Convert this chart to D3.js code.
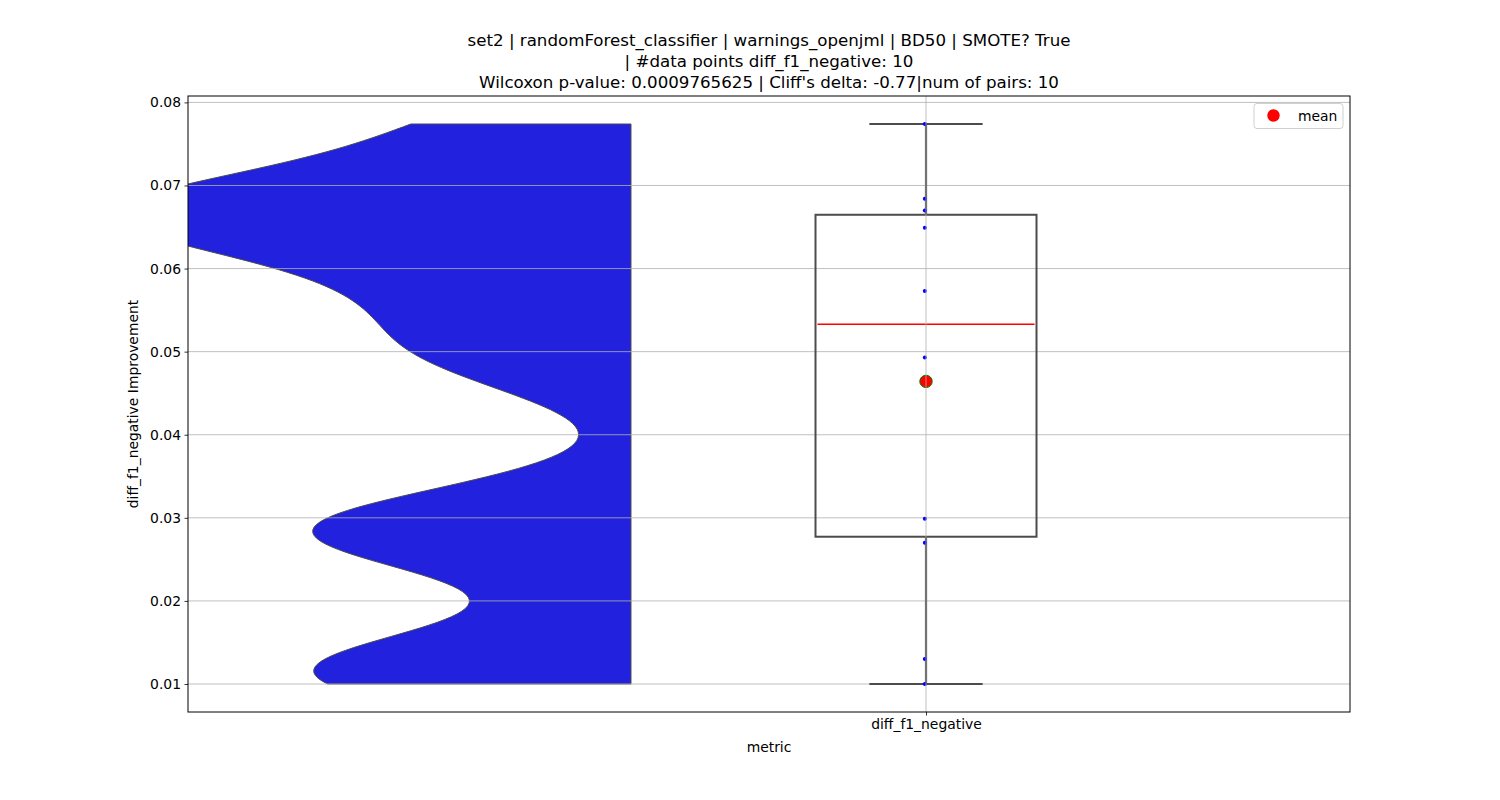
<!DOCTYPE html>
<html>
<head>
<meta charset="utf-8">
<script src="https://cdn.jsdelivr.net/npm/d3@7"></script>
<style>
  body { margin: 0; background: #fff; }
  text { font-family: "DejaVu Sans", sans-serif; }
</style>
</head>
<body>
<svg id="chart" width="1500" height="800"></svg>
<script>
// ---- data ----
const categories = ["diff_f1_negative"];
const values = [0.0774, 0.0684, 0.0670, 0.0649, 0.0573, 0.0493, 0.0299, 0.0270, 0.0130, 0.0100];
const yTicks = [0.01, 0.02, 0.03, 0.04, 0.05, 0.06, 0.07, 0.08];
const titleLines = [
  "set2 | randomForest_classifier | warnings_openjml | BD50 | SMOTE? True",
  "| #data points diff_f1_negative: 10",
  "Wilcoxon p-value: 0.0009765625 | Cliff's delta: -0.77|num of pairs: 10"
];
const xLabel = "metric";
const yLabel = "diff_f1_negative Improvement";
const legendLabel = "mean";

// ---- layout ----
const L = 188, R = 1350, T = 96, B = 712;
const svg = d3.select("#chart");

const y = d3.scaleLinear().domain([0.00663, 0.08077]).range([B, T]);
const x = d3.scaleLinear().domain([-2.6715, 1.5348]).range([L, R]);
const catPos = 0;

// statistics
const sorted = values.slice().sort(d3.ascending);
const q1 = d3.quantile(sorted, 0.25), q3 = d3.quantile(sorted, 0.75);
const med = d3.median(sorted), mean = d3.mean(sorted);
const lo = d3.min(sorted), hi = d3.max(sorted);

// clip
svg.append("defs").append("clipPath").attr("id", "clip")
  .append("rect").attr("x", L).attr("y", T).attr("width", R - L).attr("height", B - T);

// ---- half violin (gaussian KDE, cut at data range) ----
const bw = 0.0049;
const kde = v => d3.sum(values, d => Math.exp(-0.5 * ((v - d) / bw) ** 2));
const grid = d3.range(0, 201).map(i => lo + (hi - lo) * i / 200);
const dens = grid.map(v => [v, kde(v)]);
const dmax = d3.max(dens, d => d[1]);
const violinRight = -1.068, violinWidth = 1.875;
const violinPts = dens.map(d => [x(violinRight - violinWidth * d[1] / dmax), y(d[0])]);
violinPts.push([x(violinRight), y(hi)]);
violinPts.push([x(violinRight), y(lo)]);
svg.append("g").attr("clip-path", "url(#clip)")
  .append("path")
  .attr("d", d3.line()(violinPts) + "Z")
  .attr("fill", "#2121de")
  .attr("stroke", "#4a4a4a")
  .attr("stroke-width", 1);

// ---- grid ----
const gridG = svg.append("g");
gridG.selectAll("line.h").data(yTicks).join("line")
  .attr("x1", L).attr("x2", R)
  .attr("y1", d => y(d)).attr("y2", d => y(d))
  .attr("stroke", "#b0b0b0").attr("stroke-width", 0.8);

// ---- box plot ----
const boxG = svg.append("g");
const boxHalf = 0.4, capHalf = 0.205;
const stroke = "#4c4c4c";
boxG.append("line").attr("x1", x(catPos)).attr("x2", x(catPos))
  .attr("y1", y(q3)).attr("y2", y(hi)).attr("stroke", stroke).attr("stroke-width", 2.2);
boxG.append("line").attr("x1", x(catPos)).attr("x2", x(catPos))
  .attr("y1", y(q1)).attr("y2", y(lo)).attr("stroke", stroke).attr("stroke-width", 2.2);
[hi, lo].forEach(v => boxG.append("line")
  .attr("x1", x(catPos - capHalf)).attr("x2", x(catPos + capHalf))
  .attr("y1", y(v)).attr("y2", y(v)).attr("stroke", stroke).attr("stroke-width", 2));
boxG.append("rect")
  .attr("x", x(catPos - boxHalf)).attr("width", x(catPos + boxHalf) - x(catPos - boxHalf))
  .attr("y", y(q3)).attr("height", y(q1) - y(q3))
  .attr("fill", "none").attr("stroke", stroke).attr("stroke-width", 2);
boxG.append("line")
  .attr("x1", x(catPos - boxHalf) + 2).attr("x2", x(catPos + boxHalf) - 2)
  .attr("y1", y(med)).attr("y2", y(med)).attr("stroke", "red").attr("stroke-width", 1.6);

// data points
svg.append("g").selectAll("circle").data(values).join("circle")
  .attr("cx", x(catPos) - 1.2).attr("cy", d => y(d)).attr("r", 2)
  .attr("fill", "blue");

// mean marker
svg.append("circle").attr("cx", x(catPos)).attr("cy", y(mean)).attr("r", 6.2)
  .attr("fill", "red").attr("stroke", "green").attr("stroke-width", 1);

// vertical grid line (drawn above box, as in reference)
svg.append("line")
  .attr("x1", x(catPos)).attr("x2", x(catPos)).attr("y1", T).attr("y2", B)
  .attr("stroke", "#b0b0b0").attr("stroke-width", 0.8);

// ---- axes ----
svg.append("rect").attr("x", L).attr("y", T).attr("width", R - L).attr("height", B - T)
  .attr("fill", "none").attr("stroke", "black").attr("stroke-width", 1);

const yAxis = svg.append("g").attr("transform", `translate(${L},0)`)
  .call(d3.axisLeft(y).tickValues(yTicks).tickFormat(d3.format(".2f")).tickSize(3.5).tickPadding(3.5));
yAxis.select(".domain").remove();
yAxis.selectAll("text").attr("font-size", 13.9).attr("fill", "black").attr("font-family", "DejaVu Sans");
yAxis.selectAll("line").attr("stroke", "black").attr("stroke-width", 0.8);

const xBand = d3.scalePoint().domain(categories).range([x(catPos), x(catPos)]);
const xAxis = svg.append("g").attr("transform", `translate(0,${B})`)
  .call(d3.axisBottom(xBand).tickSize(3.5).tickPadding(3.5));
xAxis.select(".domain").remove();
xAxis.selectAll("text").attr("font-size", 13.9).attr("fill", "black").attr("font-family", "DejaVu Sans");
xAxis.selectAll("line").attr("stroke", "black").attr("stroke-width", 0.8);

// labels
svg.append("text").attr("x", (L + R) / 2).attr("y", 752).attr("text-anchor", "middle")
  .attr("font-size", 13.9).text(xLabel);
svg.append("text").attr("transform", `translate(138,${(T + B) / 2}) rotate(-90)`)
  .attr("text-anchor", "middle").attr("font-size", 13.9).text(yLabel);

// title
svg.append("g").selectAll("text").data(titleLines).join("text")
  .attr("x", (L + R) / 2).attr("y", (d, i) => 46 + i * 21)
  .attr("text-anchor", "middle").attr("font-size", 16.67).text(d => d);

// legend
const lg = svg.append("g");
lg.append("rect").attr("x", 1254).attr("y", 103.5).attr("width", 89).attr("height", 25)
  .attr("rx", 3).attr("fill", "white").attr("fill-opacity", 0.8)
  .attr("stroke", "#d0d0d0").attr("stroke-width", 1);
lg.append("circle").attr("cx", 1273.5).attr("cy", 115.5).attr("r", 6.2).attr("fill", "red");
lg.append("text").attr("x", 1298).attr("y", 120.5).attr("font-size", 13.9).text(legendLabel);
</script>
</body>
</html>
